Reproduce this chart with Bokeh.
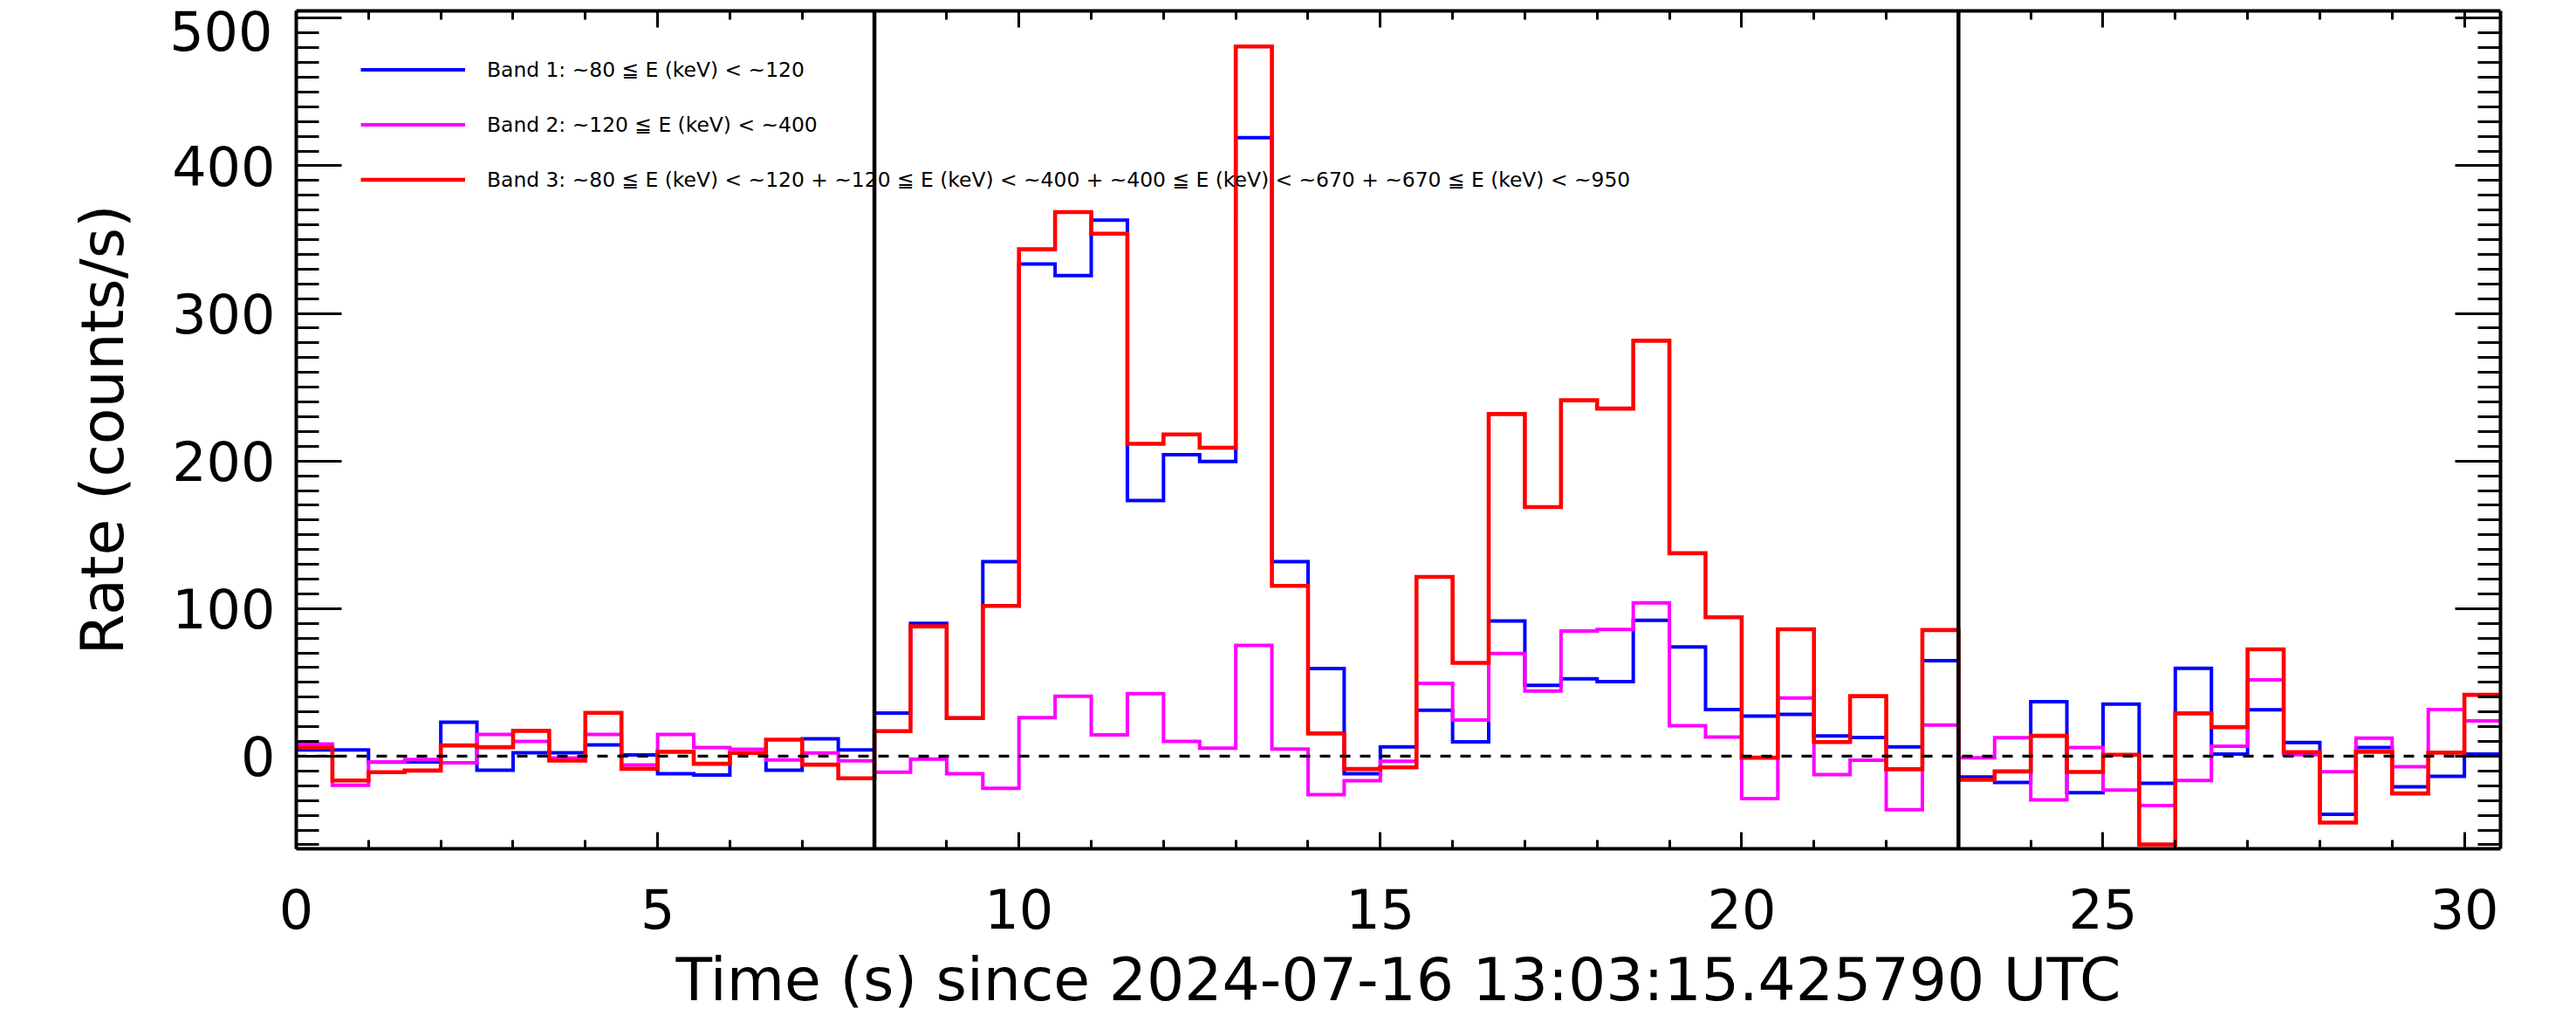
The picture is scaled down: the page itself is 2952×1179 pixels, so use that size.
import numpy as np
from bokeh.plotting import figure
from bokeh.models import (Range1d, LinearAxis, SingleIntervalTicker, FixedTicker, Span,
                          Legend, LegendItem, CustomLabelingPolicy)
from bokeh.embed import file_html
from bokeh.resources import INLINE

# ---------------- data (rates in counts/s, 0.5 s bins from t=0) ----------------
bin_width = 0.5
t_start = 0.0

band1 = [4.3, 4.3, -4.0, -3.9, 23.0, -9.5, 2.4, 2.4, 7.7, 0.8, -11.8, -12.8, 2.0, -9.5, 11.8, 4.3,
         29.2, 90.0, 25.8, 131.8, 333.5, 325.6, 363.1, 173.2, 204.3, 199.6, 419.0, 131.8, 59.4, -11.8,
         6.4, 31.1, 9.8, 91.6, 48.0, 52.4, 50.5, 92.1, 74.0, 31.6, 27.2, 28.4, 13.7, 12.7, 6.4, 64.7,
         -14.0, -17.8, 36.9, -24.7, 35.3, -18.3, 59.6, 1.4, 31.4, 9.3, -39.4, 5.9, -20.7, -13.6, 1.4]

band2 = [8.3, -19.7, -3.9, -2.2, -4.5, 14.8, 10.0, -1.2, 14.8, -5.9, 14.8, 5.9, 4.7, -2.6, 2.2, -3.2,
         -10.8, -2.0, -11.8, -21.7, 26.2, 40.6, 14.4, 42.4, 10.0, 5.5, 75.1, 4.9, -26.0, -16.6,
         -3.4, 49.3, 24.5, 69.6, 44.1, 84.8, 85.8, 103.9, 20.6, 13.0, -28.7, 39.5, -12.5, -2.7, -36.3, 21.1,
         -1.0, 12.6, -29.6, 5.9, -22.9, -33.5, -16.4, 6.7, 51.7, 1.0, -10.5, 12.2, -7.1, 31.6, 23.9]

band3 = [5.9, -16.4, -10.8, -9.7, 7.3, 6.1, 17.2, -3.0, 29.4, -8.5, 3.0, -5.1, 2.2, 11.2, -5.7, -15.0,
         17.0, 88.0, 25.8, 101.8, 343.4, 368.6, 354.0, 211.6, 218.0, 209.0, 480.8, 115.4, 15.4, -8.7,
         -7.6, 121.5, 63.2, 231.8, 168.8, 241.1, 235.5, 281.5, 137.5, 94.1, -1.0, 86.0, 9.6, 40.7, -8.8, 85.5,
         -16.0, -10.3, 13.8, -10.7, 1.0, -59.8, 29.0, 19.7, 72.4, 2.8, -45.0, 3.0, -25.2, 2.4, 41.6]

interval_marks = [8.0, 23.0]

legend_labels = [
    "Band 1: ~80 \u2266 E (keV) < ~120",
    "Band 2: ~120 \u2266 E (keV) < ~400",
    "Band 3: ~80 \u2266 E (keV) < ~120 + ~120 \u2266 E (keV) < ~400 + ~400 \u2266 E (keV) < ~670 + ~670 \u2266 E (keV) < ~950",
]
band_colors = ["#0000ff", "#ff00ff", "#ff0000"]

x_label = "Time (s) since 2024-07-16 13:03:15.425790 UTC"
y_label = "Rate (counts/s)"
top_y_tick = 500

x_min, x_max = 0.0, 30.5
y_min, y_max = -62.7, 504.9

# ---------------- figure ----------------
FONT = "DejaVu Sans"
FRAME_W, FRAME_H = 2526, 960
Y_LABEL_W = 118          # width of a three-digit tick label at 62px
Y_LABEL_STANDOFF = 24
TOP_LABEL_DROP_PX = 14.5  # the top tick label is drawn a bit below its tick

p = figure(frame_width=FRAME_W, frame_height=FRAME_H,
           min_border_left=339, min_border_right=87,
           min_border_top=12, min_border_bottom=207,
           x_range=Range1d(x_min, x_max), y_range=Range1d(y_min, y_max),
           x_axis_type=None, y_axis_type=None,
           output_backend="svg", toolbar_location=None)
p.outline_line_color = None
p.background_fill_color = "white"
p.border_fill_color = "white"

shift = TOP_LABEL_DROP_PX * (y_max - y_min) / FRAME_H
p.extra_y_ranges = {"toplabel": Range1d(y_min + shift, y_max + shift)}

n = len(band1)
edges = t_start + bin_width * np.arange(n + 1)


def step_vals(v):
    return list(v) + [v[-1]]


renderers = []
for vals, col, lw in zip([band1, band2, band3], band_colors, [4.0, 4.0, 4.6]):
    r = p.step(edges, step_vals(vals), mode="after", line_color=col,
               line_width=lw, line_join="miter")
    renderers.append(r)

# vertical interval lines and zero line
for xm in interval_marks:
    p.add_layout(Span(location=xm, dimension="height", line_color="black", line_width=4.5))
p.add_layout(Span(location=0, dimension="width", line_color="black",
                  line_width=3.3, line_dash="12 11"))

no_labels = CustomLabelingPolicy(code="return []")
drop_last = CustomLabelingPolicy(code="const a = [...indices]; a.pop(); return a")


def style_axis(ax, tick_in, minor_in, labels=True):
    ax.axis_line_width = 4
    ax.axis_line_color = "black"
    ax.major_tick_in = tick_in
    ax.major_tick_out = 0
    ax.minor_tick_in = minor_in
    ax.minor_tick_out = 0
    ax.major_tick_line_width = 3
    ax.minor_tick_line_width = 3
    ax.major_tick_line_color = "black"
    ax.minor_tick_line_color = "black"
    ax.major_label_text_font = FONT
    ax.major_label_text_color = "black"
    ax.axis_label_text_font = FONT
    ax.axis_label_text_color = "black"
    ax.axis_label_text_font_style = "normal"
    if not labels:
        ax.major_label_policy = no_labels
        ax.major_label_standoff = 0


xb = LinearAxis(ticker=SingleIntervalTicker(interval=5, num_minor_ticks=5), axis_label=x_label)
style_axis(xb, 19, 10)
xb.major_label_text_font_size = "62px"
xb.major_label_standoff = 45
xb.axis_label_text_font_size = "68px"
xb.axis_label_standoff = 16
p.add_layout(xb, "below")

# main y axis: ticks and labels 0..400 (top label is drawn by the axis below)
yl = LinearAxis(ticker=SingleIntervalTicker(interval=100, num_minor_ticks=10))
style_axis(yl, 52, 26)
yl.major_label_text_font_size = "62px"
yl.major_label_standoff = Y_LABEL_STANDOFF
yl.major_label_policy = drop_last
p.add_layout(yl, "left")

# companion y axis: the "500" label nudged down, plus the axis title
y2 = LinearAxis(y_range_name="toplabel", ticker=FixedTicker(ticks=[top_y_tick], minor_ticks=[]),
                axis_label=y_label)
style_axis(y2, 0, 0)
y2.axis_line_color = None
y2.major_tick_line_color = None
y2.minor_tick_line_color = None
y2.major_label_text_font_size = "62px"
y2.major_label_standoff = -Y_LABEL_W
y2.axis_label_text_font_size = "68px"
y2.axis_label_standoff = 34
p.add_layout(y2, "left")

xt = LinearAxis(ticker=SingleIntervalTicker(interval=5, num_minor_ticks=5))
style_axis(xt, 19, 10, labels=False)
p.add_layout(xt, "above")

yr = LinearAxis(ticker=SingleIntervalTicker(interval=100, num_minor_ticks=10))
style_axis(yr, 52, 26, labels=False)
p.add_layout(yr, "right")

legend = Legend(items=[LegendItem(label=lab, renderers=[r]) for lab, r in zip(legend_labels, renderers)],
                location=(74, 735), glyph_width=120, glyph_height=63, label_height=63,
                spacing=0, padding=0, margin=0, label_standoff=25,
                label_text_font=FONT, label_text_font_size="23.4px", label_text_color="black",
                border_line_alpha=0, background_fill_alpha=0)
p.add_layout(legend)

open("out.html", "w").write(file_html(p, INLINE, "Rate"))
